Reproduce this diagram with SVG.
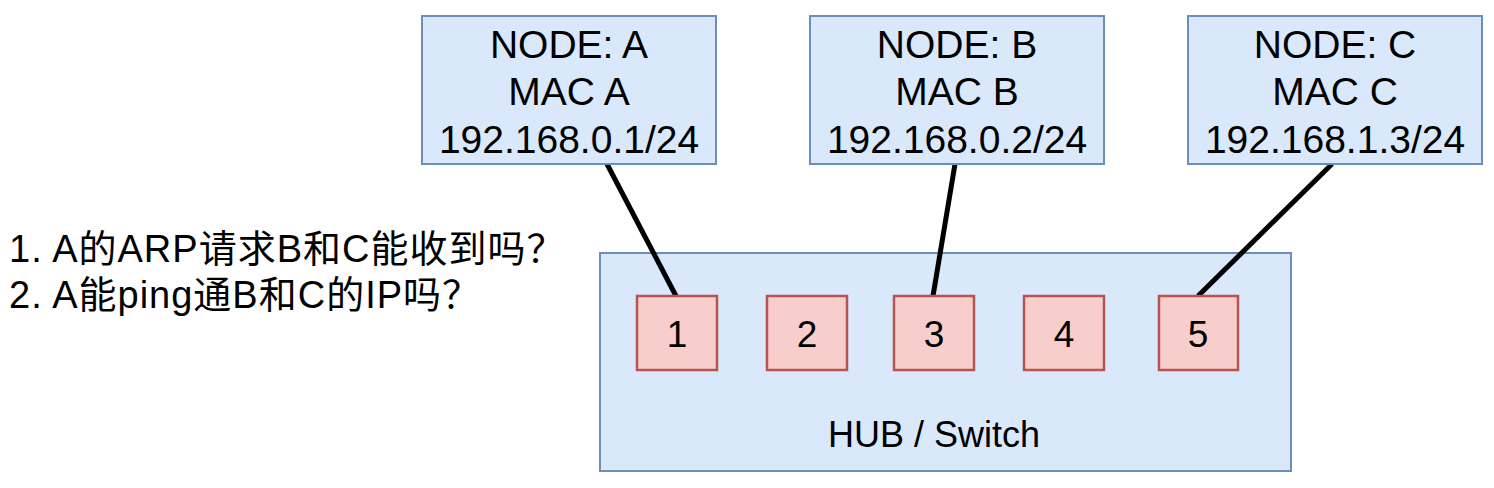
<svg xmlns="http://www.w3.org/2000/svg" width="1494" height="488" viewBox="0 0 1494 488">
<style>
.node{fill:#dae8fc;stroke:#6c8ebf;stroke-width:2}
.port{fill:#f8cecc;stroke:#b85450;stroke-width:2.5}
.t{font-family:"Liberation Sans",Arial,"Noto Sans CJK SC",sans-serif;fill:#000;text-anchor:middle}
.nt{font-size:39px}
.pt{font-size:37px}
.q{font-family:"Liberation Sans",Arial,"Noto Sans CJK SC",sans-serif;fill:#000;font-size:38px;letter-spacing:1px}
.link{stroke:#000;stroke-width:5;fill:none}
</style>
<rect width="1494" height="488" fill="#fff"/>
<g id="hub">
<rect class="node" x="600" y="253" width="691" height="218"/>
<text class="t" x="934" y="447" font-size="36">HUB / Switch</text>
</g>
<g id="links">
<line class="link" x1="607" y1="164" x2="676" y2="296"/>
<line class="link" x1="955" y1="164" x2="933" y2="296"/>
<line class="link" x1="1332" y1="164" x2="1198" y2="296"/>
</g>
<g id="nodeA">
<rect class="node" x="422" y="16" width="294" height="148"/>
<text class="t nt" x="569" y="58">NODE: A</text>
<text class="t nt" x="569" y="105">MAC A</text>
<text class="t nt" x="569" y="153">192.168.0.1/24</text>
</g>
<g id="nodeB">
<rect class="node" x="810" y="16" width="294" height="148"/>
<text class="t nt" x="957" y="58">NODE: B</text>
<text class="t nt" x="957" y="105">MAC B</text>
<text class="t nt" x="957" y="153">192.168.0.2/24</text>
</g>
<g id="nodeC">
<rect class="node" x="1188" y="16" width="294" height="148"/>
<text class="t nt" x="1335" y="58">NODE: C</text>
<text class="t nt" x="1335" y="105">MAC C</text>
<text class="t nt" x="1335" y="153">192.168.1.3/24</text>
</g>
<g id="port1">
<rect class="port" x="637" y="296" width="80" height="74"/>
<text class="t pt" x="677" y="347">1</text>
</g>
<g id="port2">
<rect class="port" x="767" y="296" width="80" height="74"/>
<text class="t pt" x="807" y="347">2</text>
</g>
<g id="port3">
<rect class="port" x="894" y="296" width="80" height="74"/>
<text class="t pt" x="934" y="347">3</text>
</g>
<g id="port4">
<rect class="port" x="1024" y="296" width="80" height="74"/>
<text class="t pt" x="1064" y="347">4</text>
</g>
<g id="port5">
<rect class="port" x="1159" y="296" width="79" height="74"/>
<text class="t pt" x="1198" y="347">5</text>
</g>
<g id="questions">
<text class="q" x="9" y="262">1. A的ARP请求B和C能收到吗？</text>
<text class="q" x="9" y="308">2. A能ping通B和C的IP吗？</text>
</g>
</svg>
